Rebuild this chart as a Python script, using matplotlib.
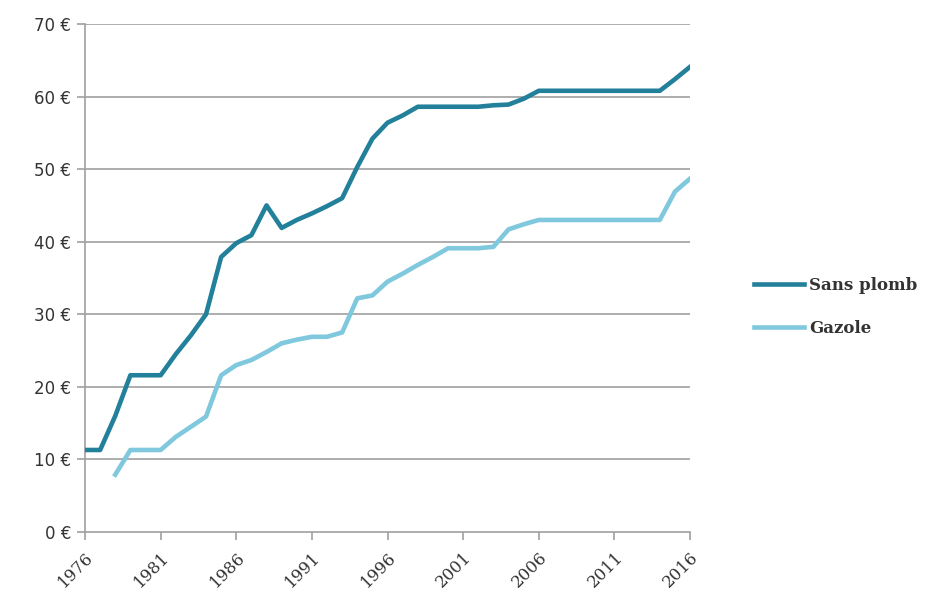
import numpy as np
import matplotlib
matplotlib.use("Agg")
from matplotlib import pyplot as plt

# prix par annee (lecture du graphique)
annees_sp = list(range(1976, 2017))
sans_plomb = [11.3, 11.3, 16.0, 21.6, 21.6, 21.6, 24.5, 27.1, 30.0, 37.9,
              39.8, 40.9, 45.0, 41.9, 43.0, 43.9, 44.9, 46.0, 50.3, 54.2,
              56.4, 57.4, 58.6, 58.6, 58.6, 58.6, 58.6, 58.8, 58.9, 59.7,
              60.8, 60.8, 60.8, 60.8, 60.8, 60.8, 60.8, 60.8, 60.8, 62.4, 64.1]
annees_gz = list(range(1978, 2017))
gazole = [7.9, 11.3, 11.3, 11.3, 13.1, 14.5, 15.9, 21.6, 23.0, 23.7,
          24.8, 26.0, 26.5, 26.9, 26.9, 27.5, 32.2, 32.6, 34.5, 35.6,
          36.8, 37.9, 39.1, 39.1, 39.1, 39.3, 41.7, 42.4, 43.0, 43.0,
          43.0, 43.0, 43.0, 43.0, 43.0, 43.0, 43.0, 46.9, 48.7]
xticks = list(range(1976, 2017, 5))
yticks = list(range(0, 71, 10))

fig = plt.figure(figsize=(9.3, 5.96), dpi=100)
ax = fig.add_axes([0.0914, 0.1074, 0.6506, 0.8523])

gris = "#a0a0a0"
for y in yticks[1:]:
    ax.axhline(y, color=gris, lw=1.2, zorder=1)

l1, = ax.plot(annees_sp, sans_plomb, color="#23809b", lw=3.3, zorder=3)
l2, = ax.plot(annees_gz, gazole, color="#7fc8dd", lw=3.3, zorder=3)

ax.set_xlim(1976, 2016)
ax.set_ylim(0, 70)
ax.set_xticks(xticks)
ax.set_yticks(yticks)
ax.set_yticklabels([f"{v} €" for v in yticks], fontsize=12, color="#333333",
                   family="DejaVu Sans")
ax.set_xticklabels([str(v) for v in xticks], rotation=45, ha="right",
                   rotation_mode="anchor", fontsize=12, color="#333333",
                   family="DejaVu Serif")
ax.tick_params(axis="both", color=gris, length=6, width=1.2, pad=4)
ax.tick_params(axis="x", pad=6)
for s in ["top", "right"]:
    ax.spines[s].set_visible(False)
for s in ["left", "bottom"]:
    ax.spines[s].set_color(gris)
    ax.spines[s].set_linewidth(1.2)

fig.legend([l1, l2], ["Sans plomb", "Gazole"], loc="center left",
           bbox_to_anchor=(0.795, 0.485), frameon=False, handlelength=3.0,
           handletextpad=0.3, labelspacing=1.55,
           prop={"family": "DejaVu Serif", "size": 12, "weight": "bold"},
           labelcolor="#333333")

fig.savefig("out.png", dpi=100, facecolor="white")
